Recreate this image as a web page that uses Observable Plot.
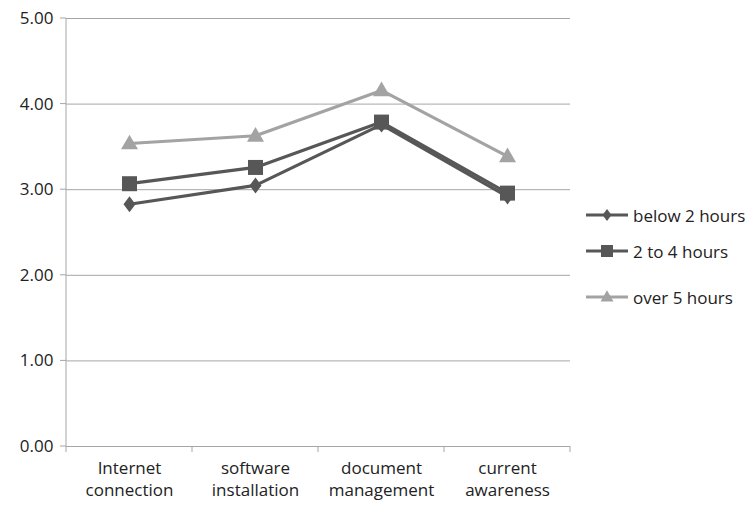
<!DOCTYPE html>
<html><head><meta charset="utf-8">
<script src="https://cdn.jsdelivr.net/npm/d3@7"></script>
<script src="https://cdn.jsdelivr.net/npm/@observablehq/plot@0.6"></script>
<style>
body{margin:0;background:#fff;font-family:"Open Sans",sans-serif;}
#wrap{position:relative;width:751px;height:506px;}
#legend{position:absolute;left:584px;top:0;font-size:17px;color:#222;}
#legend .row{position:absolute;display:flex;align-items:center;height:24px;white-space:nowrap;}
#legend svg{margin-right:3px;}
</style></head><body>
<div id="wrap"><div id="chart"></div><div id="legend"></div></div>
<script>
const categories = ["Internet connection","software installation","document management","current awareness"];
const catLines = [["Internet","connection"],["software","installation"],["document","management"],["current","awareness"]];
const seriesNames = ["below 2 hours","2 to 4 hours","over 5 hours"];
const below2 = [2.83, 3.05, 3.76, 2.92];
const twoTo4 = [3.07, 3.26, 3.79, 2.96];
const over5 = [3.54, 3.63, 4.16, 3.39];
const yTicks = [0,1,2,3,4,5];
const colors = ["#575757","#575757","#a3a3a3"];
const radii = [6, 7.5, 8.5];

// custom symbols: size = PI*r*r, r = half width
const halfW = size => Math.sqrt(size/Math.PI);
const symDiamond = {draw(c,size){const r=halfW(size),h=r*1.33;c.moveTo(0,-h);c.lineTo(r,0);c.lineTo(0,h);c.lineTo(-r,0);c.closePath();}};
const symSquare = {draw(c,size){const r=halfW(size);c.rect(-r,-r,2*r,2*r);}};
const symTriangle = {draw(c,size){const r=halfW(size),h=r*1.73;c.moveTo(0,-h*0.6);c.lineTo(r,h*0.4);c.lineTo(-r,h*0.4);c.closePath();}};
const symbols = [symDiamond, symSquare, symTriangle];

const seriesVals = [below2, twoTo4, over5];
const rows = [];
seriesVals.forEach((vals,s)=>vals.forEach((v,i)=>rows.push({series:seriesNames[s],cat:categories[i],value:v,s})));

const grid = "#a6a6a6";
const axisTicks = (index, scales, values, dim) => {
  const x = scales.x, y = scales.y;
  const step = x(categories[1]) - x(categories[0]);
  const g = d3.create("svg:g").attr("stroke", grid).attr("stroke-width",1);
  const y0 = y(0);
  categories.forEach((c)=>{
    g.append("line").attr("x1",x(c)-step/2).attr("x2",x(c)-step/2).attr("y1",y0).attr("y2",y0+6);
  });
  const last = x(categories[categories.length-1])+step/2;
  g.append("line").attr("x1",last).attr("x2",last).attr("y1",y0).attr("y2",y0+6);
  g.append("line").attr("x1",dim.marginLeft).attr("x2",dim.marginLeft).attr("y1",y(5)).attr("y2",y0);
  yTicks.forEach(t=>g.append("line").attr("x1",dim.marginLeft-6).attr("x2",dim.marginLeft).attr("y1",y(t)).attr("y2",y(t)));
  return g.node();
};

const marks = [
  Plot.ruleY(yTicks, {stroke: grid, strokeWidth:1}),
  axisTicks,
  Plot.text(yTicks, {x: () => categories[0], y: d=>d, text: d=>d.toFixed(2), textAnchor:"end", dx:-76, fontSize:17, fill:"#222"}),
  Plot.text(categories, {x: d=>d, frameAnchor:"bottom", text: (d,i)=>catLines[i].join("\n"), lineAnchor:"top", dy:12, lineHeight:1.3, fontSize:17, fill:"#222"}),
];
seriesNames.forEach((name,s)=>{
  const data = rows.filter(r=>r.s===s);
  marks.push(Plot.line(data,{x:"cat",y:"value",stroke:colors[s],strokeWidth:3.2}));
  marks.push(Plot.dot(data,{x:"cat",y:"value",symbol:()=>symbols[s],r:radii[s],fill:colors[s],stroke:"none"}));
});

const chart = Plot.plot({
  width:751, height:506,
  marginTop:18, marginBottom:60, marginLeft:66, marginRight:181,
  x:{type:"point", domain:categories, padding:0.5, axis:null},
  y:{domain:[0,5], axis:null},
  symbol:{type:"identity"},
  style:{fontFamily:"'Open Sans',sans-serif", background:"#fff"},
  marks
});
document.getElementById("chart").appendChild(chart);

const leg = d3.select("#legend");
const legTops = [203, 239, 285];
const legR = [4.5, 6, 6.5];
seriesNames.forEach((name,s)=>{
  const row = leg.append("div").attr("class","row").style("top", legTops[s]+"px");
  const sv = row.append("svg").attr("width",46).attr("height",20);
  sv.append("line").attr("x1",2).attr("x2",44).attr("y1",10).attr("y2",10).attr("stroke",colors[s]).attr("stroke-width",3);
  const p = d3.path();
  symbols[s].draw(p, Math.PI*legR[s]*legR[s]);
  sv.append("path").attr("transform","translate(23,10)").attr("fill",colors[s]).attr("d", p.toString());
  row.append("span").text(name);
});
</script></body></html>
